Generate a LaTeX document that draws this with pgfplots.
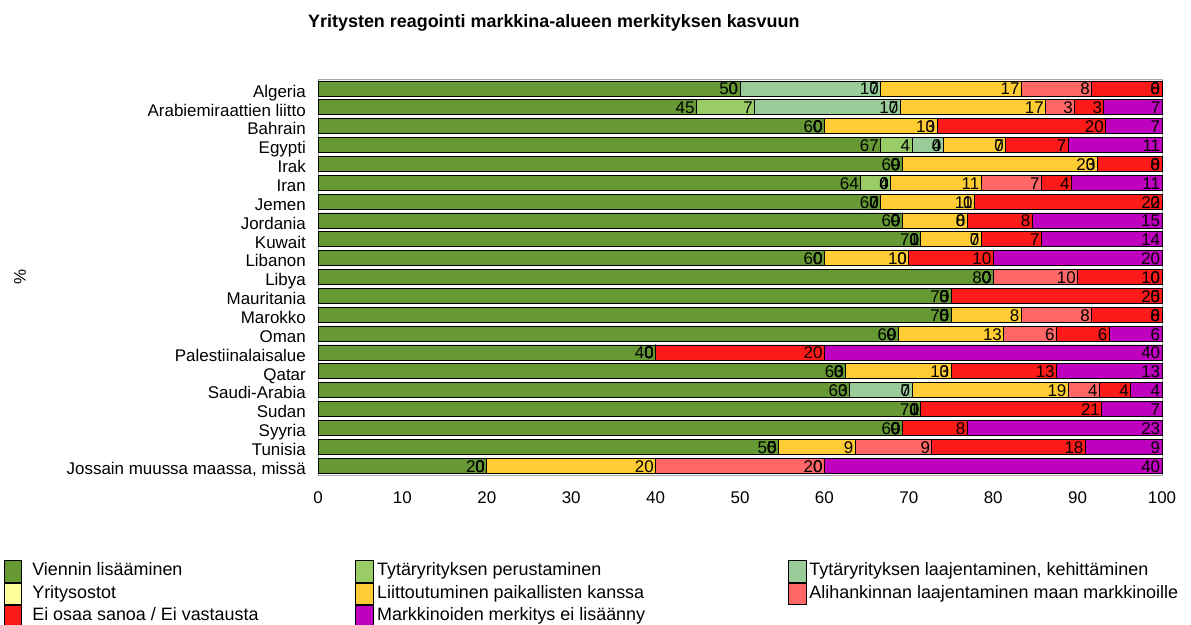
\documentclass[border=0pt]{standalone}
\usepackage{fontspec}
\setmainfont{Liberation Sans}
\usepackage{pgfplots}
\usepackage{pgfplotstable}
\pgfplotsset{compat=1.18}
\pgfplotsset{compat/bar nodes=1.8}
\definecolor{cA}{HTML}{669933}
\definecolor{cB}{HTML}{99CC66}
\definecolor{cC}{HTML}{99CC99}
\definecolor{cD}{HTML}{FFFF99}
\definecolor{cE}{HTML}{FFCC33}
\definecolor{cF}{HTML}{FF6666}
\definecolor{cG}{HTML}{FF1A1A}
\definecolor{cH}{HTML}{BF00BF}

\pgfplotstableread{
idx a b c d e f g h
0 50 0 16.67 0 16.67 8.33 8.33 0
1 44.83 6.90 17.24 0 17.24 3.45 3.45 6.90
2 60 0 0 0 13.33 0 20 6.67
3 66.67 3.70 3.70 0 7.41 0 7.41 11.11
4 69.23 0 0 0 23.08 0 7.69 0
5 64.29 3.57 0 0 10.71 7.14 3.57 10.71
6 66.67 0 0 0 11.11 0 22.22 0
7 69.23 0 0 0 7.69 0 7.69 15.38
8 71.43 0 0 0 7.14 0 7.14 14.29
9 60 0 0 0 10 0 10 20
10 80 0 0 0 0 10 10 0
11 75 0 0 0 0 0 25 0
12 75 0 0 0 8.33 8.33 8.33 0
13 68.75 0 0 0 12.5 6.25 6.25 6.25
14 40 0 0 0 0 0 20 40
15 62.5 0 0 0 12.5 0 12.5 12.5
16 62.96 0 7.41 0 18.52 3.70 3.70 3.70
17 71.43 0 0 0 0 0 21.43 7.14
18 69.23 0 0 0 0 0 7.69 23.08
19 54.55 0 0 0 9.09 9.09 18.18 9.09
20 20 0 0 0 20 20 0 40
}\data

\begin{document}
\begin{tikzpicture}
\useasboundingbox (0,0) rectangle (1191bp,625bp);
\node[font=\fontsize{18}{21}\selectfont\bfseries, anchor=base west, inner sep=0pt] at (308bp,597bp) {Yritysten reagointi markkina-alueen merkityksen kasvuun};
\begin{axis}[
  at={(318bp,150bp)}, anchor=south west,
  width=844bp, height=396bp, scale only axis,
  xbar stacked, bar width=15bp,
  xmin=0, xmax=100, ymin=-0.5, ymax=20.5,
  y dir=reverse,
  clip=false,
  ytick={0,...,20},
  yticklabels={Algeria, Arabiemiraattien liitto, Bahrain, Egypti, Irak, Iran, Jemen, Jordania, Kuwait, Libanon, Libya, Mauritania, Marokko, Oman, Palestiinalaisalue, Qatar, Saudi-Arabia, Sudan, Syyria, Tunisia, {Jossain muussa maassa, missä}},
  xtick={0,10,...,100},
  major tick length=0pt,
  axis line style={draw=black!35},
  tick label style={font=\fontsize{17}{20}\selectfont},
  /pgf/number format/assume math mode=true,
  yticklabel style={inner sep=0pt, xshift=-12bp, yshift=-4.5bp, text height=12bp, text depth=3.5bp},
  xticklabel style={inner sep=0pt, yshift=-16bp},
  ylabel={\%},
  every axis y label/.style={at={(axis description cs:0,0.5)}, xshift=-298bp, rotate=90, anchor=center, font=\fontsize{17}{20}\selectfont},
  point meta=explicit,
  nodes near coords={\pgfmathprintnumber[fixed,precision=0]{\pgfplotspointmeta}},
  every node near coord/.append style={anchor=base east, inner sep=1.5bp, yshift=-6.5bp, font=\fontsize{17}{20}\selectfont, text=black},
  every axis plot/.append style={draw=black, line width=0.8bp},
  legend columns=3,
  legend cell align=left,
  legend style={at={(axis description cs:-0.37204,-0.21465)}, anchor=north west, draw=none, fill=none, inner sep=0pt, outer sep=0pt, column sep=0pt, row sep=0pt, font=\fontsize{18}{21}\selectfont, nodes={inner sep=0pt, outer sep=0pt, text height=13bp, text depth=4bp}},
  legend image code/.code={\draw[#1, draw=black, line width=0.8bp] (0bp,-10.85bp) rectangle (17.5bp,10.85bp);},
]
\addplot[fill=cA] table[x=a, y=idx, meta=a]{\data};
\addplot[fill=cB] table[x=b, y=idx, meta=b]{\data};
\addplot[fill=cC] table[x=c, y=idx, meta=c]{\data};
\addplot[fill=cD] table[x=d, y=idx, meta=d]{\data};
\addplot[fill=cE] table[x=e, y=idx, meta=e]{\data};
\addplot[fill=cF] table[x=f, y=idx, meta=f]{\data};
\addplot[fill=cG] table[x=g, y=idx, meta=g]{\data};
\addplot[fill=cH] table[x=h, y=idx, meta=h]{\data};
\addlegendentry{\hspace*{10bp}\makebox[323bp][l]{Viennin lisääminen}}
\addlegendentry{\hspace*{3.5bp}\makebox[411bp][l]{Tytäryrityksen perustaminen}}
\addlegendentry{\hspace*{3bp}Tytäryrityksen laajentaminen, kehittäminen}
\addlegendentry{\hspace*{10bp}\makebox[323bp][l]{Yritysostot}}
\addlegendentry{\hspace*{3.5bp}\makebox[411bp][l]{Liittoutuminen paikallisten kanssa}}
\addlegendentry{\hspace*{3bp}Alihankinnan laajentaminen maan markkinoille}
\addlegendentry{\hspace*{10bp}\makebox[323bp][l]{Ei osaa sanoa / Ei vastausta}}
\addlegendentry{\hspace*{3.5bp}\makebox[411bp][l]{Markkinoiden merkitys ei lisäänny}}
\end{axis}
\end{tikzpicture}
\end{document}
